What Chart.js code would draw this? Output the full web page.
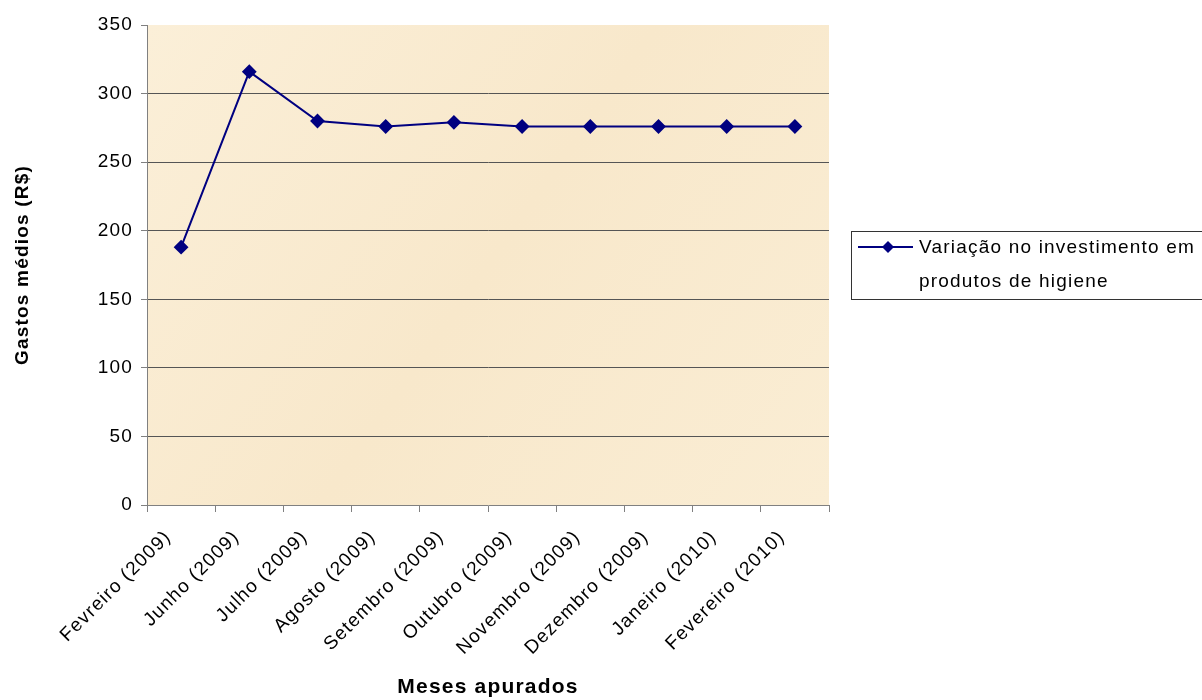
<!DOCTYPE html>
<html lang="pt-br">
<head>
    <meta charset="UTF-8">
    <title>Gastos médios</title>
    <script src="https://cdn.jsdelivr.net/npm/chart.js"></script>
    <style>
        html, body { margin: 0; padding: 0; background: #fff; }
        .janela { width: 1202px; height: 700px; position: relative; }
    </style>
</head>
<body>
<div class="janela">
    <canvas id="myChart" width="1202" height="700"></canvas>
</div>

<script>
    // dados
    var meses = ['Fevreiro (2009)', 'Junho (2009)', 'Julho (2009)', 'Agosto (2009)', 'Setembro (2009)',
        'Outubro (2009)', 'Novembro (2009)', 'Dezembro (2009)', 'Janeiro (2010)', 'Fevereiro (2010)'];
    var gastos = [188, 316, 280, 276, 279, 276, 276, 276, 276, 276];
    var legendaLinhas = ['Variação no investimento em', 'produtos de higiene'];

    var fonte = 'Liberation Sans, Arial, sans-serif';
    var azul = '#000080';
    var espaco = '1.2px'; // espaçamento entre letras, como no Excel

    // espaçamento de letras em todo o canvas
    const espacamento = {
        id: 'espacamento',
        beforeLayout(chart) { chart.ctx.letterSpacing = espaco; },
        beforeDraw(chart) { chart.ctx.letterSpacing = espaco; }
    };

    // fundo "pergaminho" da área do gráfico
    const fundoPlot = {
        id: 'fundoPlot',
        beforeDraw(chart) {
            const { ctx, chartArea: a } = chart;
            ctx.save();
            let g = ctx.createLinearGradient(a.left, a.top, a.right, a.bottom);
            g.addColorStop(0, '#FBEFD8');
            g.addColorStop(0.5, '#F8E8CB');
            g.addColorStop(1, '#FAEDD4');
            ctx.fillStyle = g;
            ctx.fillRect(a.left, a.top, a.right - a.left, a.bottom - a.top);
            ctx.restore();
        }
    };

    // legenda desenhada à mão (texto em duas linhas)
    const legenda = {
        id: 'legenda',
        afterDraw(chart) {
            const ctx = chart.ctx;
            const ds = chart.data.datasets[0];
            ctx.save();
            ctx.strokeStyle = '#333';
            ctx.lineWidth = 1;
            ctx.strokeRect(851.5, 231.5, 360, 68);
            ctx.strokeStyle = ds.borderColor;
            ctx.lineWidth = 2;
            ctx.beginPath();
            ctx.moveTo(858, 247);
            ctx.lineTo(913, 247);
            ctx.stroke();
            ctx.fillStyle = ds.pointBackgroundColor;
            ctx.beginPath();
            ctx.moveTo(888, 241);
            ctx.lineTo(894, 247);
            ctx.lineTo(888, 253);
            ctx.lineTo(882, 247);
            ctx.closePath();
            ctx.fill();
            ctx.fillStyle = '#000';
            ctx.font = '19px ' + fonte;
            ctx.letterSpacing = espaco;
            ctx.textBaseline = 'middle';
            ctx.fillText(legendaLinhas[0], 919, 248);
            ctx.fillText(legendaLinhas[1], 919, 282);
            ctx.restore();
        }
    };

    const config = {
        type: 'line',
        data: {
            labels: meses,
            datasets: [{
                label: legendaLinhas.join(' '),
                data: gastos,
                fill: false,
                borderColor: azul,
                backgroundColor: azul,
                pointBackgroundColor: azul,
                pointBorderColor: azul,
                borderWidth: 2,
                pointStyle: 'rectRot',
                pointRadius: 6,
                tension: 0
            }]
        },
        options: {
            responsive: false,
            animation: false,
            layout: { padding: { top: 25, right: 373, left: 0, bottom: 0 } },
            plugins: {
                legend: { display: false },
                tooltip: { enabled: false }
            },
            scales: {
                x: {
                    offset: true,
                    grid: { offset: true, drawOnChartArea: false, drawTicks: true, tickLength: 7, color: '#808080' },
                    border: { color: '#808080', width: 1 },
                    ticks: {
                        minRotation: 45, maxRotation: 45, autoSkip: false,
                        color: '#000', font: { family: fonte, size: 19 }, padding: 14, labelOffset: -13
                    },
                    title: {
                        display: true, text: 'Meses apurados', color: '#000',
                        font: { family: fonte, size: 21, weight: 'bold' },
                        padding: { top: 0, bottom: 0 }
                    },
                    afterFit(scale) { scale.height = 195; }
                },
                y: {
                    min: 0, max: 350,
                    ticks: {
                        stepSize: 50, color: '#000', padding: 8,
                        font: { family: fonte, size: 19 }
                    },
                    grid: {
                        tickLength: 6,
                        color(c) {
                            return (c.tick.value === 0 || c.tick.value === 350) ? 'rgba(0,0,0,0)' : '#555';
                        },
                        tickColor: '#808080'
                    },
                    border: { color: '#808080', width: 1 },
                    title: {
                        display: true, text: 'Gastos médios (R$)', color: '#000',
                        font: { family: fonte, size: 19, weight: 'bold' },
                        padding: { top: 11, bottom: 0 }
                    },
                    afterFit(scale) { scale.width = 147; }
                }
            }
        },
        plugins: [espacamento, fundoPlot, legenda]
    };

    let myChartP = new Chart(document.getElementById('myChart'), config);
</script>
</body>
</html>
